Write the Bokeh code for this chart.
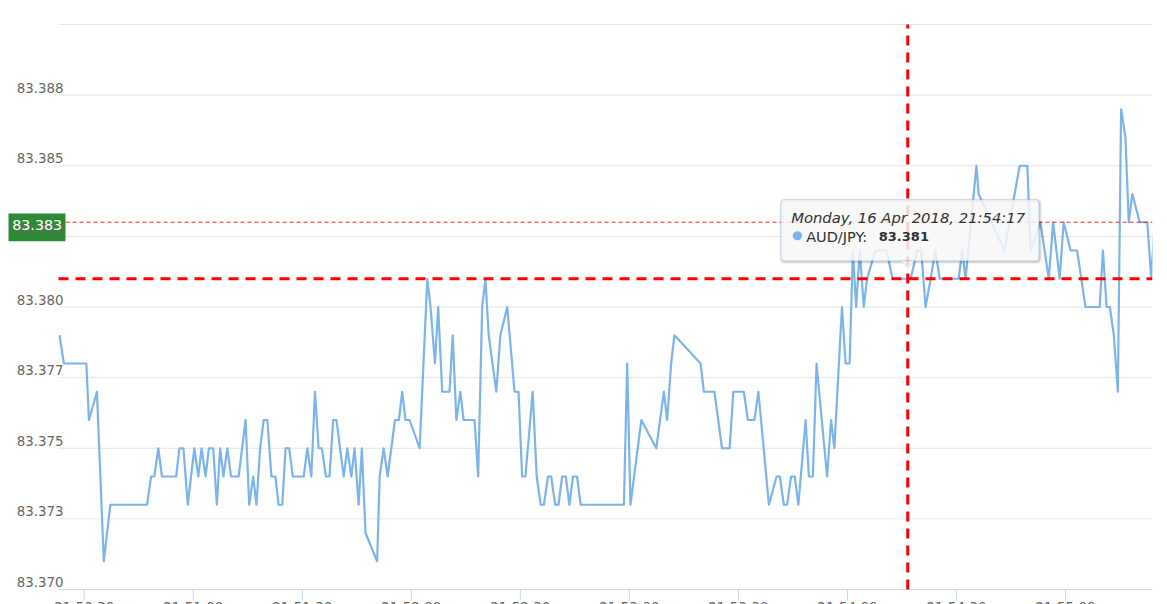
import datetime as dt
from bokeh.plotting import figure
from bokeh.models import Range1d, Label, BoxAnnotation, PolyAnnotation
from bokeh.embed import file_html
from bokeh.resources import INLINE

# ---------------- data ----------------
BASE = dt.datetime(2018, 4, 16, 21, 50, 0)   # seconds below are counted from here
EPOCH = dt.datetime(1970, 1, 1)

seconds = [23.2, 24.4, 30.6, 31.3, 33.5, 35.4, 37.2, 47.3, 48.4, 49.3,
           50.4, 51.4, 55.3, 56.2, 57.3, 58.5, 60.3, 61.4, 62.3, 63.4,
           64.3, 65.5, 66.5, 67.4, 68.3, 69.4, 70.4, 72.5, 74.4, 75.4,
           76.5, 77.4, 78.4, 79.4, 80.4, 81.5, 82.6, 83.5, 84.5, 85.4,
           86.4, 87.4, 90.4, 91.4, 92.5, 93.5, 94.5, 95.4, 96.5, 97.5,
           98.5, 99.4, 101.4, 102.4, 103.5, 104.4, 105.5, 106.4, 107.4, 110.6,
           111.3, 112.4, 113.5, 115.5, 116.6, 117.5, 118.4, 119.5, 122.3, 124.4,
           125.3, 126.5, 127.4, 128.5, 130.5, 131.4, 132.4, 133.5, 134.4, 137.4,
           138.4, 139.5, 140.4, 141.3, 143.4, 144.5, 146.4, 148.4, 149.5, 150.5,
           151.4, 153.4, 154.5, 155.6, 156.5, 157.6, 158.5, 159.6, 160.5, 161.5,
           162.5, 163.5, 164.5, 165.6, 166.6, 178.5, 179.4, 180.3, 183.3, 187.4,
           189.5, 190.4, 191.5, 192.4, 199.6, 200.5, 203.4, 205.5, 207.6, 208.6,
           211.5, 212.6, 214.4, 215.5, 218.4, 220.5, 221.4, 222.5, 223.4, 224.5,
           225.5, 226.5, 228.5, 229.4, 230.5, 231.5, 234.4, 235.5, 236.4, 238.5,
           239.5, 240.6, 241.5, 242.4, 243.4, 244.5, 245.4, 247.7, 250.8, 252.4,
           256.6, 257.4, 259.2, 260.3, 261.5, 262.9, 264.2, 265.4, 270.6, 271.6,
           272.5, 275.5, 276.1, 283.2, 287.4, 289.5, 290.4, 293.1, 295.4, 296.6, 298.4,
           299.5, 301.4, 303.2, 305.5, 309.4, 310.3, 311.3, 312.2, 313.3, 314.4,
           315.3, 316.5, 317.4, 318.4, 320.4, 322.5, 323.6, 324.5]

prices = [83.379, 83.378, 83.378, 83.376, 83.377, 83.371, 83.373, 83.373, 83.374, 83.374,
          83.375, 83.374, 83.374, 83.375, 83.375, 83.373, 83.375, 83.374, 83.375, 83.374,
          83.375, 83.375, 83.373, 83.375, 83.374, 83.375, 83.374, 83.374, 83.376, 83.373,
          83.374, 83.373, 83.375, 83.376, 83.376, 83.374, 83.374, 83.373, 83.373, 83.375,
          83.375, 83.374, 83.374, 83.375, 83.374, 83.377, 83.375, 83.375, 83.374, 83.374,
          83.376, 83.376, 83.374, 83.375, 83.374, 83.375, 83.373, 83.375, 83.372, 83.371,
          83.374, 83.375, 83.374, 83.376, 83.376, 83.377, 83.376, 83.376, 83.375, 83.381,
          83.380, 83.378, 83.380, 83.377, 83.377, 83.379, 83.376, 83.377, 83.376, 83.376,
          83.374, 83.380, 83.381, 83.379, 83.377, 83.379, 83.380, 83.377, 83.377, 83.374,
          83.374, 83.377, 83.374, 83.373, 83.373, 83.374, 83.374, 83.373, 83.373, 83.374,
          83.374, 83.373, 83.374, 83.374, 83.373, 83.373, 83.378, 83.373, 83.376, 83.375,
          83.377, 83.376, 83.378, 83.379, 83.378, 83.377, 83.377, 83.375, 83.375, 83.377,
          83.377, 83.376, 83.376, 83.377, 83.373, 83.374, 83.374, 83.373, 83.373, 83.374,
          83.374, 83.373, 83.376, 83.374, 83.374, 83.378, 83.374, 83.376, 83.375, 83.380,
          83.378, 83.378, 83.382, 83.380, 83.382, 83.380, 83.381, 83.382, 83.382, 83.381,
          83.381, 83.381, 83.382, 83.382, 83.380, 83.381, 83.382, 83.381, 83.381, 83.382,
          83.381, 83.385, 83.384, 83.382, 83.385, 83.385, 83.382, 83.383, 83.381, 83.383, 83.381,
          83.383, 83.382, 83.382, 83.380, 83.380, 83.382, 83.380, 83.380, 83.379, 83.377,
          83.387, 83.386, 83.383, 83.384, 83.383, 83.383, 83.381, 83.383]

series_name = "AUD/JPY"
y_ticks = [83.370, 83.3725, 83.375, 83.3775, 83.380, 83.3825, 83.385, 83.3875, 83.390]
y_tick_labels = ["83.370", "83.373", "83.375", "83.377", "83.380", "83.383", "83.385", "83.388", ""]
x_tick_seconds = [30, 60, 90, 120, 150, 180, 210, 240, 270, 300]
x_tick_labels = ["21:50:30", "21:51:00", "21:51:30", "21:52:00", "21:52:30",
                 "21:53:00", "21:53:30", "21:54:00", "21:54:30", "21:55:00"]
view_start_s, view_end_s = 22.93, 323.94      # visible time window of the plot area
y_min, y_max = 83.370, 83.390
last_price = 83.383
hover_second = 256.6
hover_price = 83.381
hover_header = "Monday, 16 Apr 2018, 21:54:17"

# ---------------- layout (pixels) ----------------
PAGE_W, PAGE_H = 1167, 604
PL, PR, PT, PB = 58, 1152, 24, 589            # plot-area edges on the canvas

def at(s):
    return BASE + dt.timedelta(seconds=s)

def ms(t):
    return (t - EPOCH).total_seconds() * 1000.0

sec_per_px = (view_end_s - view_start_s) / (PR - PL)
price_per_px = (y_max - y_min) / (PB - PT)
x0_s = view_start_s - PL * sec_per_px
y0 = y_min - (PAGE_H - PB) * price_per_px
y1 = y_max + PT * price_per_px

def dx(px):   # pixel distance -> ms
    return px * sec_per_px * 1000.0

def dy(px):   # pixel distance -> price
    return px * price_per_px

xl, xr = ms(at(view_start_s)), ms(at(view_end_s))
times = [ms(at(s)) for s in seconds]

FONT = "DejaVu Sans"
SERIES = "#7cb5ec"
RED = "#ff0000"

# the frame covers the canvas except a right margin, so the series is clipped at the plot edge
p = figure(width=PAGE_W, height=PAGE_H, output_backend="svg", toolbar_location=None,
           x_axis_type=None, y_axis_type=None,
           x_range=Range1d(ms(at(x0_s)), xr), y_range=Range1d(y0, y1),
           min_border_left=0, min_border_right=PAGE_W - PR, min_border_top=0, min_border_bottom=0)
p.outline_line_color = None
p.background_fill_color = "white"
p.border_fill_color = "white"

# horizontal grid lines over the plot area
grid_vals = [v for v in y_ticks if v != y_min]
p.segment(x0=[xl] * len(grid_vals), x1=[xr] * len(grid_vals), y0=grid_vals, y1=grid_vals,
          line_color="#e6e6e6", line_width=1)

# x axis line and tick marks
p.segment(x0=[xl], x1=[xr], y0=[y_min], y1=[y_min], line_color="#ccd6eb", line_width=1)
tick_ms = [ms(at(s)) for s in x_tick_seconds]
p.segment(x0=tick_ms, x1=tick_ms, y0=[y_min] * len(tick_ms), y1=[y_min - dy(11)] * len(tick_ms),
          line_color="#ccd6eb", line_width=1)

# series
p.line(times, prices, line_color=SERIES, line_width=2.2, line_join="round")

# price / crosshair lines
p.line([xl, xr], [last_price, last_price], line_color=RED, line_width=1,
       line_dash="4 3", line_alpha=0.85)
p.line([xl, xr], [hover_price, hover_price], line_color=RED, line_width=3, line_dash="10 7")
hx = ms(at(hover_second))
p.line([hx, hx], [y_min, y_max], line_color=RED, line_width=3, line_dash="10 7")

# y tick labels
for v, txt in zip(y_ticks, y_tick_labels):
    if txt:
        p.add_layout(Label(x=xl, y=v, text=txt, x_offset=5, y_offset=7.5,
                           text_align="right", text_baseline="alphabetic",
                           text_color="#666666", text_font=FONT, text_font_size="13.4px"))

# x tick labels (their tops show at the bottom edge, as in the reference)
for s, txt in zip(x_tick_seconds, x_tick_labels):
    p.add_layout(Label(x=ms(at(s)), y=y_min, text=txt, y_offset=-17.5,
                       text_align="center", text_baseline="alphabetic",
                       text_color="#666666", text_font=FONT, text_font_size="13.4px"))

# last price badge
p.quad(left=[xl - dx(50)], right=[xl + dx(7)], top=[last_price + dy(8.7)],
       bottom=[last_price - dy(19)], fill_color="#2e8b35", line_color=None)
p.add_layout(Label(x=xl, y=last_price, text="%.3f" % last_price,
                   x_offset=3.7, y_offset=-3.1, text_align="right", text_baseline="middle",
                   text_color="white", text_font=FONT, text_font_size="14.3px"))

# tooltip (positioned relative to the hovered point)
hy = hover_price
for w, a in ((5, 0.04), (3, 0.07), (1, 0.12)):
    p.add_layout(BoxAnnotation(left=hx - dx(126), right=hx + dx(132),
                               top=hy + dy(78), bottom=hy + dy(17), fill_alpha=0,
                               line_color="black", line_alpha=a, line_width=w,
                               border_radius=3, level="overlay"))
p.add_layout(BoxAnnotation(left=hx - dx(127), right=hx + dx(131),
                           top=hy + dy(79), bottom=hy + dy(18),
                           fill_color="#f7f7f7", fill_alpha=0.85,
                           line_color=SERIES, line_width=1, border_radius=3, level="overlay"))
p.add_layout(PolyAnnotation(xs=[hx - dx(7), hx, hx + dx(7)],
                            ys=[hy + dy(18), hy + dy(10), hy + dy(18)],
                            fill_color="#f7f7f7", fill_alpha=0.85,
                            line_color=SERIES, line_width=1, level="overlay"))

p.add_layout(Label(x=hx, y=hy, text=hover_header, x_offset=-116.6, y_offset=61.3,
                   text_align="left", text_baseline="alphabetic", text_font_style="italic",
                   text_color="#333333", text_font=FONT, text_font_size="14.8px", level="overlay"))
p.add_layout(Label(x=hx, y=hy, text="\u25cf", x_offset=-110.6, y_offset=43.8,
                   text_align="center", text_baseline="middle",
                   text_color=SERIES, text_font=FONT, text_font_size="12px", level="overlay"))
p.add_layout(Label(x=hx, y=hy, text=series_name + ":", x_offset=-101.6, y_offset=42,
                   text_align="left", text_baseline="alphabetic",
                   text_color="#333333", text_font=FONT, text_font_size="14.5px", level="overlay"))
p.add_layout(Label(x=hx, y=hy, text="%.3f" % hover_price, x_offset=-29, y_offset=42,
                   text_align="left", text_baseline="alphabetic", text_font_style="bold",
                   text_color="#333333", text_font=FONT, text_font_size="13px", level="overlay"))

open("out.html", "w").write(file_html(p, INLINE))
